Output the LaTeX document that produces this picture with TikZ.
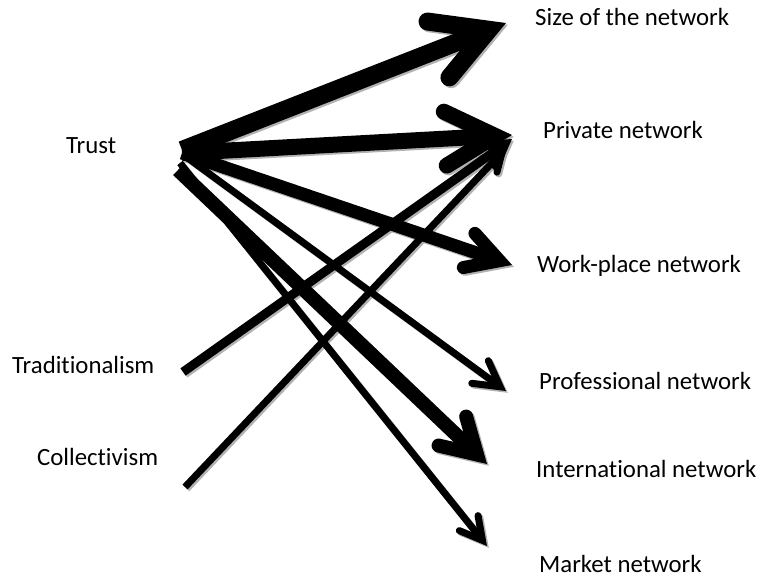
\documentclass[tikz,border=0pt]{standalone}
\usepackage{fontspec}
\setmainfont[Ligatures={NoCommon}]{Carlito}
\usetikzlibrary{arrows.meta}
\begin{document}
\begin{tikzpicture}[x=1pt,y=-1pt,
  lbl/.style={inner sep=0pt,anchor=base west,font=\fontsize{24.8}{28}\selectfont},
  conn/.style={line cap=butt,line join=miter},
  head/.style n args={2}{-{Straight Barb[length=#1pt,width=#2pt,line cap=round,line join=miter]}},
  % one style per connector: line width and head size
  toSize/.style={conn,line width=18pt,head={54}{60}},
  toPriv/.style={conn,line width=16pt,head={50}{54}},
  toWork/.style={conn,line width=13pt,head={32}{36}},
  toProf/.style={conn,line width=7pt,head={25}{28}},
  toIntl/.style={conn,line width=14pt,head={34}{40}},
  toMark/.style={conn,line width=7pt,head={22}{24}},
  fromTrad/.style={conn,line width=9pt,head={20}{24}},
  fromColl/.style={conn,line width=7pt,head={18}{20}}
]
\useasboundingbox (0,0) rectangle (762,578);

% labels
\node[lbl] (trust) at (66,153) {Trust};
\node[lbl] (trad) at (12,373) {Traditionalism};
\node[lbl] (coll) at (37,465) {Collectivism};
\node[lbl] (size) at (535,26) {Size of the network};
\node[lbl] (priv) at (543,138) {Private network};
\node[lbl] (work) at (537,272) {Work-place network};
\node[lbl] (prof) at (539,389) {Professional network};
\node[lbl] (intl) at (536,477) {International network};
\node[lbl] (mark) at (539,572) {Market network};

% arrow ends
\coordinate (tA) at (182,150);
\coordinate (tB) at (182,153);
\coordinate (tC) at (185,156);
\coordinate (tD) at (178,170);
\coordinate (tE) at (180,163);
\coordinate (trOut) at (183,372);
\coordinate (coOut) at (185,487);
\coordinate (sizeIn) at (506,23);
\coordinate (privIn) at (512,135);
\coordinate (privInT) at (512,139);
\coordinate (privInC) at (507,147);
\coordinate (workIn) at (512,265);
\coordinate (profIn) at (506,391);
\coordinate (intlIn) at (487,464);
\coordinate (markIn) at (487,546);

% soft drop shadows
\begin{scope}[transform canvas={shift={(1.8pt,-1.8pt)}},black!30]
\draw[fromColl] (coOut) -- (privInC);
\draw[fromTrad] (trOut) -- (privInT);
\draw[toMark] (tE) -- (markIn);
\draw[toIntl] (tD) -- (intlIn);
\draw[toProf] (tC) -- (profIn);
\draw[toWork] (tB) -- (workIn);
\draw[toPriv] (tB) -- (privIn);
\draw[toSize] (tA) -- (sizeIn);
\end{scope}

% connectors
\draw[fromColl] (coOut) -- (privInC);
\draw[fromTrad] (trOut) -- (privInT);
\draw[toMark] (tE) -- (markIn);
\draw[toIntl] (tD) -- (intlIn);
\draw[toProf] (tC) -- (profIn);
\draw[toWork] (tB) -- (workIn);
\draw[toPriv] (tB) -- (privIn);
\draw[toSize] (tA) -- (sizeIn);
\end{tikzpicture}
\end{document}
